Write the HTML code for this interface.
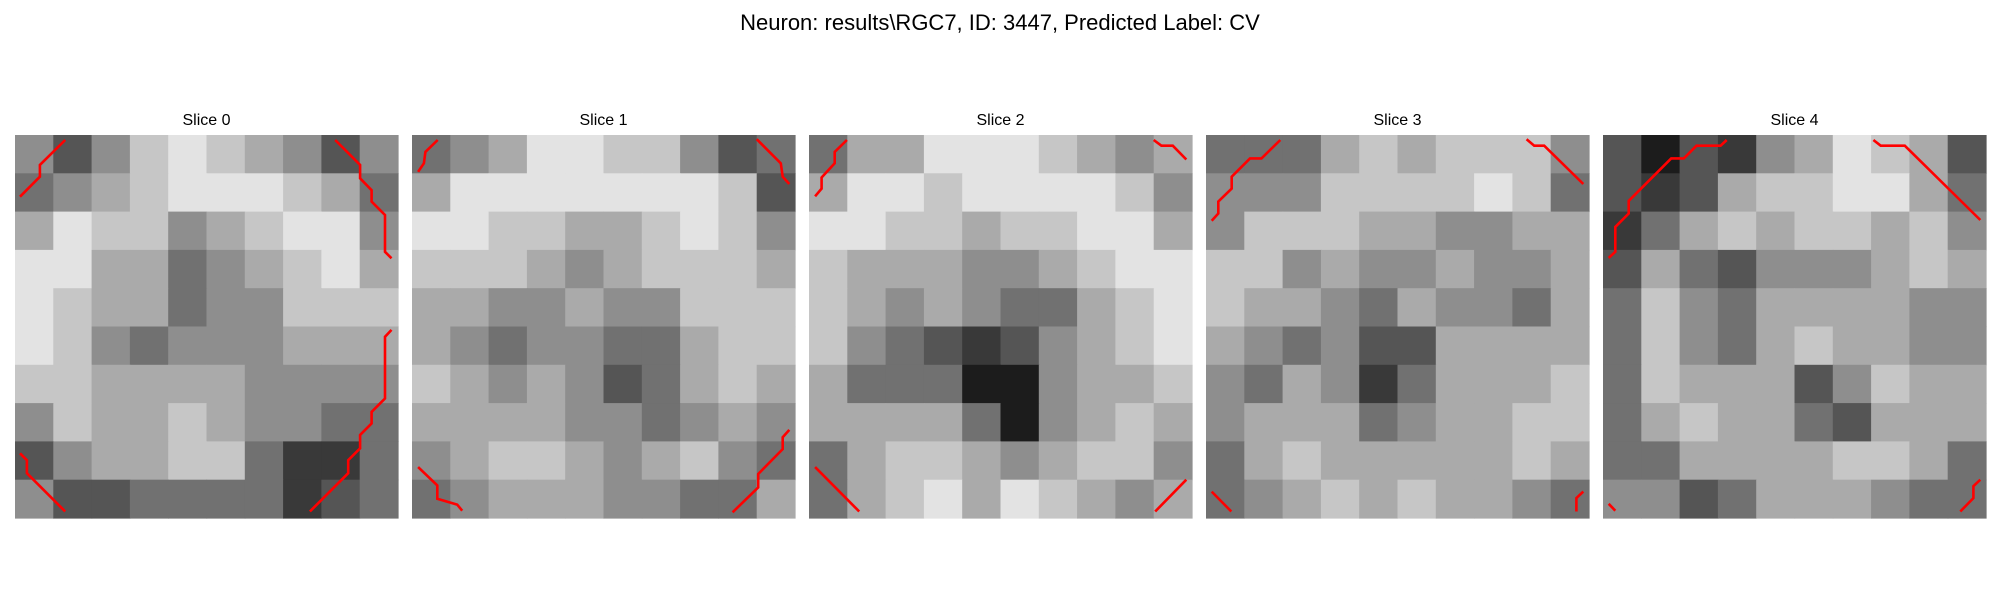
<!DOCTYPE html>
<html><head><meta charset="utf-8">
<style>
html,body{margin:0;padding:0;background:#fff;}
body{width:2000px;height:600px;overflow:hidden;font-family:"Liberation Sans","DejaVu Sans",sans-serif;}
</style></head>
<body>
<svg id="chart" width="2000" height="600" xmlns="http://www.w3.org/2000/svg">
<rect width="2000" height="600" fill="#fff"/>
<text x="1000" y="30" text-anchor="middle" font-size="22" font-family="Liberation Sans, DejaVu Sans, sans-serif" fill="#000">Neuron: results\RGC7, ID: 3447, Predicted Label: CV</text>
<g id="panels"></g>
</svg>
<script>
const sliceTitles = ["Slice 0","Slice 1","Slice 2","Slice 3","Slice 4"];
const slice0 = [
[5,3,5,7,8,7,6,5,3,5],[4,5,6,7,8,8,8,7,6,4],[6,8,7,7,5,6,7,8,8,5],[8,8,6,6,4,5,6,7,8,6],[8,7,6,6,4,5,5,7,7,7],
[8,7,5,4,5,5,5,6,6,6],[7,7,6,6,6,6,5,5,5,5],[5,7,6,6,7,6,5,5,4,4],[3,5,6,6,7,7,4,2,2,4],[5,3,3,4,4,4,4,2,3,4]];
const slice1 = [
[4,5,6,8,8,7,7,5,3,4],[6,8,8,8,8,8,8,8,7,3],[8,8,7,7,6,6,7,8,7,5],[7,7,7,6,5,6,7,7,7,6],[6,6,5,5,6,5,5,7,7,7],
[6,5,4,5,5,4,4,6,7,7],[7,6,5,6,5,3,4,6,7,6],[6,6,6,6,5,5,4,5,6,5],[5,6,7,7,6,5,6,7,5,4],[4,5,6,6,6,5,5,4,4,6]];
const slice2 = [
[4,6,6,8,8,8,7,6,5,6],[6,8,8,7,8,8,8,8,7,5],[8,8,7,7,6,7,7,8,8,6],[7,6,6,6,5,5,6,7,8,8],[7,6,5,6,5,4,4,6,7,8],
[7,5,4,3,2,3,5,6,7,8],[6,4,4,4,1,1,5,6,6,7],[6,6,6,6,4,1,5,6,7,6],[4,6,7,7,6,5,6,7,7,5],[4,6,7,8,6,8,7,6,5,6]];
const slice3 = [
[4,4,4,6,7,6,7,7,7,5],[5,5,5,7,7,7,7,8,7,4],[5,7,7,7,6,6,5,5,6,6],[7,7,5,6,5,5,6,5,5,6],[7,6,6,5,4,6,5,5,4,6],
[6,5,4,5,3,3,6,6,6,6],[5,4,6,5,2,4,6,6,6,7],[5,6,6,6,4,5,6,6,7,7],[4,6,7,6,6,6,6,6,7,6],[4,5,6,7,6,7,6,6,5,4]];
const slice4 = [
[3,1,3,2,5,6,8,7,6,3],[3,2,3,6,7,7,8,8,6,4],[2,4,6,7,6,7,7,6,7,5],[3,6,4,3,5,5,5,6,7,6],[4,7,5,4,6,6,6,6,5,5],
[4,7,5,4,6,7,6,6,5,5],[4,7,6,6,6,3,5,7,6,6],[4,6,7,6,6,4,3,6,6,6],[4,4,6,6,6,6,7,7,6,4],[5,5,3,4,6,6,6,5,4,4]];
const sliceData = [slice0, slice1, slice2, slice3, slice4];
// contour polylines in panel-fraction coordinates
const contours0 = [
[[0.013,0.161],[0.065,0.109],[0.065,0.078],[0.131,0.013]],
[[0.836,0.013],[0.901,0.078],[0.901,0.113],[0.931,0.144],[0.931,0.174],[0.966,0.209],[0.966,0.305],[0.983,0.322]],
[[0.983,0.509],[0.966,0.527],[0.966,0.688],[0.931,0.723],[0.931,0.753],[0.901,0.783],[0.901,0.818],[0.870,0.849],[0.870,0.883],[0.770,0.983]],
[[0.013,0.831],[0.031,0.849],[0.031,0.883],[0.131,0.983]]];
const contours1 = [
[[0.067,0.013],[0.035,0.044],[0.031,0.074],[0.016,0.096]],
[[0.900,0.011],[0.963,0.074],[0.968,0.109],[0.985,0.128]],
[[0.985,0.770],[0.968,0.789],[0.968,0.820],[0.904,0.885],[0.904,0.920],[0.837,0.985]],
[[0.016,0.867],[0.066,0.915],[0.066,0.950],[0.118,0.965],[0.131,0.981]]];
const contours2 = [
[[0.099,0.013],[0.067,0.044],[0.067,0.074],[0.033,0.111],[0.033,0.140],[0.016,0.160]],
[[0.900,0.013],[0.920,0.028],[0.950,0.028],[0.985,0.064]],
[[0.016,0.867],[0.131,0.983]],
[[0.985,0.900],[0.904,0.983]]];
const contours3 = [
[[0.194,0.013],[0.145,0.061],[0.115,0.061],[0.067,0.109],[0.067,0.140],[0.032,0.174],[0.032,0.205],[0.015,0.224]],
[[0.837,0.011],[0.857,0.028],[0.883,0.028],[0.985,0.128]],
[[0.015,0.931],[0.066,0.983]],
[[0.985,0.931],[0.967,0.948],[0.967,0.983]]];
const contours4 = [
[[0.323,0.013],[0.307,0.028],[0.244,0.028],[0.211,0.061],[0.178,0.061],[0.067,0.172],[0.067,0.205],[0.032,0.240],[0.032,0.305],[0.015,0.321]],
[[0.706,0.013],[0.725,0.028],[0.788,0.028],[0.985,0.222]],
[[0.015,0.963],[0.032,0.981]],
[[0.985,0.900],[0.967,0.917],[0.967,0.948],[0.933,0.983]]];
const contourData = [contours0, contours1, contours2, contours3, contours4];

const NS = "http://www.w3.org/2000/svg";
const panelX = [15, 412, 809, 1206, 1603];
const panelY = 135, panelW = 383;
const root = document.getElementById("panels");
function gray(v){ const g = Math.round(Math.max(0,Math.min(9,v))*255/9); return `rgb(${g},${g},${g})`; }
sliceData.forEach((grid, s) => {
  const g = document.createElementNS(NS, "g");
  
  
  const px = panelX[s];
  const rows = grid.length, cols = grid[0].length;
  const cw = panelW / cols, ch = panelW / rows;
  grid.forEach((row, r) => row.forEach((v, c) => {
    const rect = document.createElementNS(NS, "rect");
    
    
    rect.setAttribute("x", px + c * cw);
    rect.setAttribute("y", panelY + r * ch);
    rect.setAttribute("width", cw + 0.6);
    rect.setAttribute("height", ch + 0.6);
    rect.setAttribute("fill", gray(v));
    g.appendChild(rect);
  }));
  contourData[s].forEach(line => {
    const pl = document.createElementNS(NS, "polyline");
    
    
    pl.setAttribute("points", line.map(p => (px + p[0]*panelW).toFixed(1) + "," + (panelY + p[1]*panelW).toFixed(1)).join(" "));
    pl.setAttribute("fill", "none");
    pl.setAttribute("stroke", "#ff0000");
    pl.setAttribute("stroke-width", "2.6");
    g.appendChild(pl);
  });
  const t = document.createElementNS(NS, "text");
  
  
  t.setAttribute("x", px + panelW/2);
  t.setAttribute("y", 125);
  t.setAttribute("text-anchor", "middle");
  t.setAttribute("font-size", "16");
  t.setAttribute("font-family", "Liberation Sans, DejaVu Sans, sans-serif");
  t.textContent = sliceTitles[s];
  g.appendChild(t);
  root.appendChild(g);
});
</script>
</body></html>
